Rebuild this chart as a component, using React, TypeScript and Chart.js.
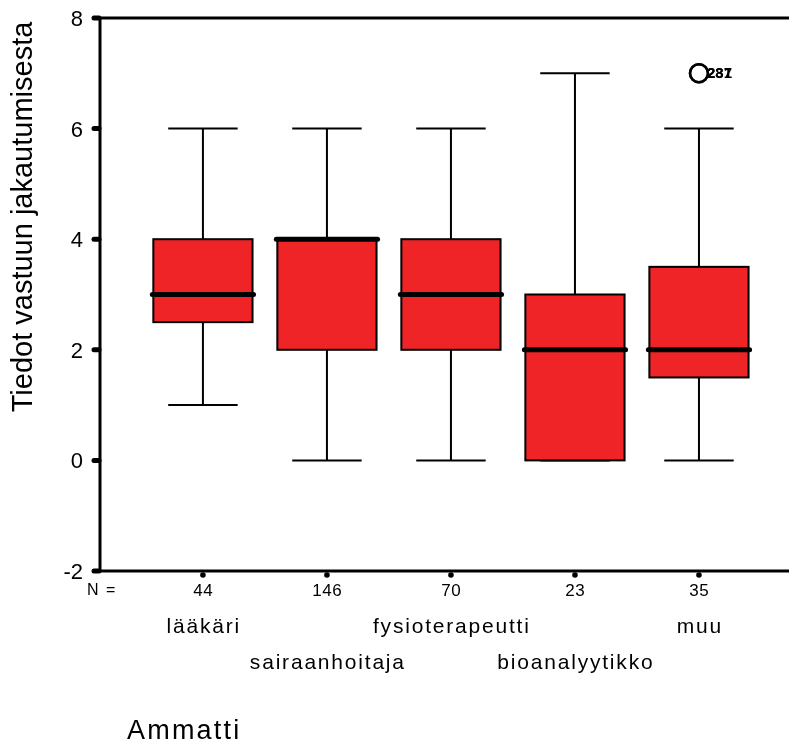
import React, { useEffect, useRef } from "react";
import { Chart, registerables } from "chart.js";

Chart.register(...registerables);

const categories = ["lääkäri", "sairaanhoitaja", "fysioterapeutti", "bioanalyytikko", "muu"];
const nCounts = ["44", "146", "70", "23", "35"];
const whiskerMin = [1, 0, 0, 0, 0];
const q1 = [2.5, 2, 2, 0, 1.5];
const medians = [3, 4, 3, 2, 2];
const q3 = [4, 4, 4, 3, 3.5];
const whiskerMax = [6, 6, 6, 7, 6];
const outlierIndex = [4, 4];
const outlierValues = [7, 7];
const outlierLabels = ["237", "281"];
const yTicks = [-2, 0, 2, 4, 6, 8];
const yTitle = "Tiedot vastuun jakautumisesta";
const xTitle = "Ammatti";

const FONT = "Arial, 'Liberation Sans', sans-serif";

const boxPlugin = {
  id: "boxplotDraw",
  afterDatasetsDraw(chart: any) {
    const ctx = chart.ctx;
    const xs = chart.scales.x;
    const ys = chart.scales.y;
    const area = chart.chartArea;
    ctx.save();
    ctx.strokeStyle = "#000";
    ctx.fillStyle = "#000";
    for (let i = 0; i < categories.length; i++) {
      const cx = xs.getPixelForValue(i);
      const capL = xs.getPixelForValue(i - 0.28);
      const capR = xs.getPixelForValue(i + 0.28);
      const yMin = ys.getPixelForValue(whiskerMin[i]);
      const yMax = ys.getPixelForValue(whiskerMax[i]);
      const yQ1 = ys.getPixelForValue(q1[i]);
      const yQ3 = ys.getPixelForValue(q3[i]);
      ctx.lineWidth = 2;
      ctx.lineCap = "butt";
      ctx.beginPath();
      ctx.moveTo(cx, yMax);
      ctx.lineTo(cx, yQ3);
      ctx.moveTo(cx, yQ1);
      ctx.lineTo(cx, yMin);
      ctx.moveTo(capL, yMax);
      ctx.lineTo(capR, yMax);
      ctx.moveTo(capL, yMin);
      ctx.lineTo(capR, yMin);
      ctx.stroke();
      const bL = xs.getPixelForValue(i - 0.4);
      const bR = xs.getPixelForValue(i + 0.4);
      ctx.fillStyle = "#EE2426";
      ctx.fillRect(bL, yQ3, bR - bL, yQ1 - yQ3);
      ctx.strokeRect(bL, yQ3, bR - bL, yQ1 - yQ3);
      const ym = ys.getPixelForValue(medians[i]);
      ctx.lineWidth = 5;
      ctx.lineCap = "round";
      ctx.beginPath();
      ctx.moveTo(bL - 1, ym);
      ctx.lineTo(bR + 1, ym);
      ctx.stroke();
    }
    // outliers
    ctx.lineWidth = 2.5;
    for (let k = 0; k < outlierIndex.length; k++) {
      const ox = xs.getPixelForValue(outlierIndex[k]);
      const oy = ys.getPixelForValue(outlierValues[k]);
      ctx.beginPath();
      ctx.arc(ox, oy, 9, 0, Math.PI * 2);
      ctx.stroke();
      ctx.fillStyle = "#000";
      ctx.font = "bold 15px " + FONT;
      ctx.textAlign = "left";
      ctx.textBaseline = "middle";
      ctx.fillText(outlierLabels[k], ox + 8, oy + 1);
    }
    // axes
    ctx.lineWidth = 3;
    ctx.lineCap = "butt";
    ctx.beginPath();
    ctx.moveTo(area.left, area.top);
    ctx.lineTo(area.right, area.top);
    ctx.moveTo(area.left, area.top);
    ctx.lineTo(area.left, area.bottom);
    ctx.moveTo(area.left, area.bottom);
    ctx.lineTo(area.right, area.bottom);
    ctx.stroke();
    // y ticks
    ctx.fillStyle = "#000";
    ctx.font = "22px " + FONT;
    ctx.textAlign = "right";
    ctx.textBaseline = "middle";
    for (const t of yTicks) {
      const y = ys.getPixelForValue(t);
      ctx.lineWidth = 5;
      ctx.lineCap = "round";
      ctx.beginPath();
      ctx.moveTo(area.left - 6, y);
      ctx.lineTo(area.left - 1, y);
      ctx.stroke();
      ctx.fillText(String(t), area.left - 17, y + 2);
    }
    // x ticks and labels
    ctx.textAlign = "center";
    ctx.textBaseline = "middle";
    for (let i = 0; i < categories.length; i++) {
      const cx = xs.getPixelForValue(i);
      ctx.beginPath();
      ctx.arc(cx, area.bottom + 4, 2.8, 0, Math.PI * 2);
      ctx.fill();
      ctx.font = "17px " + FONT;
      ctx.letterSpacing = "0.5px";
      ctx.fillText(nCounts[i], cx + 0.25, area.bottom + 20);
      ctx.font = "21px " + FONT;
      ctx.letterSpacing = "1.8px";
      const ly = i % 2 === 0 ? area.bottom + 56 : area.bottom + 92;
      ctx.fillText(categories[i], cx + 0.9, ly);
    }
    ctx.font = "16px " + FONT;
    ctx.letterSpacing = "1.5px";
    ctx.textAlign = "left";
    ctx.fillText("N =", area.left - 13, area.bottom + 20);
    // titles
    ctx.font = "27px " + FONT;
    ctx.letterSpacing = "2.2px";
    ctx.textAlign = "left";
    ctx.textBaseline = "middle";
    ctx.fillText(xTitle, 127, 732);
    ctx.letterSpacing = "0px";
    ctx.save();
    ctx.translate(32, 217);
    ctx.rotate(-Math.PI / 2);
    ctx.textAlign = "center";
    ctx.textBaseline = "alphabetic";
    ctx.font = "29px " + FONT;
    ctx.fillText(yTitle, 0, 0);
    ctx.restore();
    ctx.restore();
  },
};

export default function App() {
  const ref = useRef<HTMLCanvasElement>(null);
  useEffect(() => {
    if (!ref.current) return;
    const chart = new Chart(ref.current, {
      type: "scatter",
      data: {
        datasets: [
          {
            data: medians.map((m, i) => ({ x: i, y: m })),
            pointRadius: 0,
            showLine: false,
          },
        ],
      },
      options: {
        animation: false,
        responsive: false,
        devicePixelRatio: 1,
        layout: { padding: { left: 100, top: 18, right: 0, bottom: 173 } },
        plugins: { legend: { display: false }, tooltip: { enabled: false } },
        scales: {
          x: { type: "linear", display: false, min: -0.83, max: 4.726 },
          y: { type: "linear", display: false, min: -2, max: 8 },
        },
      },
      plugins: [boxPlugin],
    });
    return () => chart.destroy();
  }, []);
  return (
    <div style={{ position: "absolute", left: 0, top: 0, width: 789, height: 744, background: "#fff" }}>
      <canvas ref={ref} width={789} height={744} style={{ width: 789, height: 744 }} />
    </div>
  );
}
